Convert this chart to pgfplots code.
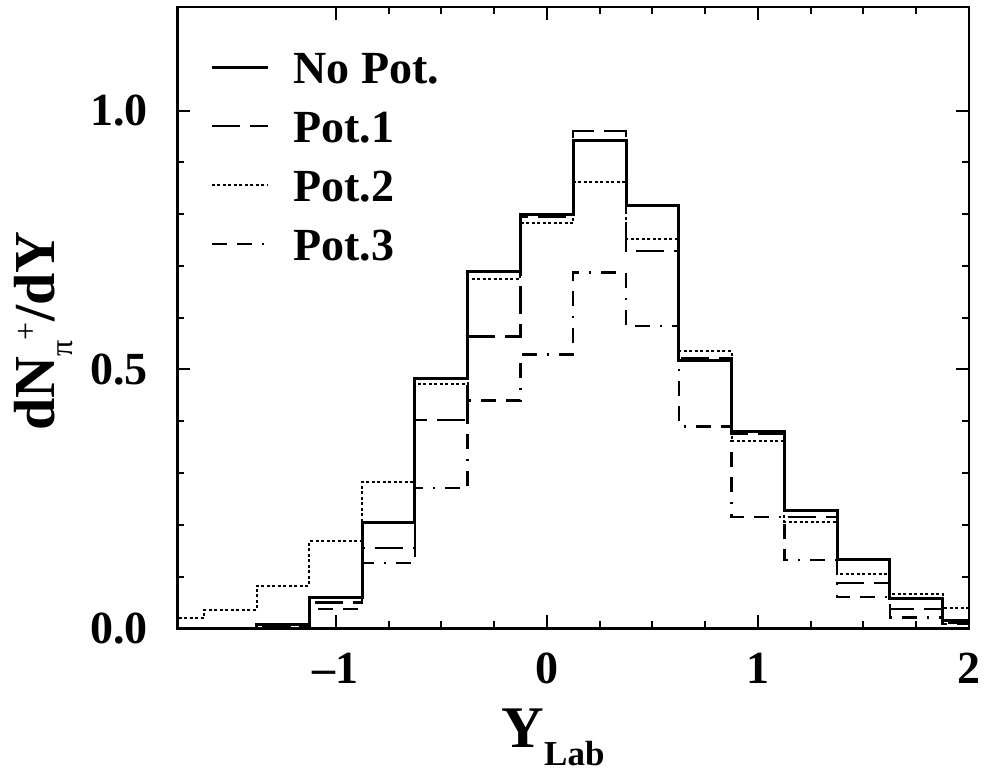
\documentclass[border=0pt]{standalone}
\usepackage{fontspec}
\setmainfont{Liberation Serif}
\usepackage{pgfplots}
\pgfplotsset{compat=1.18}
\usetikzlibrary{calc}
\begin{document}
\begin{tikzpicture}
\begin{axis}[name=ax, scale only axis, width=395.75pt, height=310.65pt,
 xmin=-1.75, xmax=2, ymin=0, ymax=1.2,
 xtick={-1,0,1,2}, xticklabels={--1,0,1,2},
 ytick={0,0.5,1}, yticklabels={0.0,0.5,1.0},
 minor x tick num=3, minor y tick num=4,
 tick pos=both, tick align=inside,
 major tick length=6.5pt, minor tick length=3.5pt,
 every tick/.style={black, line width=1pt},
 axis line style={line width=1.25pt},
 tick label style={font=\fontsize{23}{27}\selectfont\bfseries, inner sep=0pt},
 xticklabel style={anchor=north, yshift=-12.3pt},
 yticklabel style={anchor=east, xshift=-14.6pt},
 xlabel={Y\raisebox{-9pt}{\fontsize{17.5}{20}\selectfont Lab}},
 xlabel style={font=\fontsize{29.5}{34}\selectfont\bfseries, inner sep=0pt,
   at={(axis description cs:0.4745,-0.1283)}, anchor=north},
 ylabel={dN\raisebox{-9pt}{\fontsize{16}{16}\selectfont\mdseries π}\raisebox{9pt}{\fontsize{16}{16}\selectfont\mdseries +}/dY},
 ylabel style={font=\fontsize{29}{34}\selectfont\bfseries, inner sep=0pt,
   at={(axis description cs:-0.1548,0.4785)}, anchor=base},
 legend style={draw=none, fill=none, inner sep=0pt,
   at={(axis description cs:0.041,0.9416)}, anchor=north west,
   font=\fontsize{23}{27}\selectfont\bfseries,
   nodes={inner sep=0pt, text height=20pt, text depth=9.5pt},
   row sep=0pt, column sep=12pt},
 legend cell align=left,
 legend image code/.code={\draw[#1] (0pt,3pt) -- (28pt,3pt);},
 const plot mark left,
]
\addplot[black, line width=1.5pt] coordinates {
(-1.875,0) (-1.625,0) (-1.375,0.008) (-1.125,0.060) (-0.875,0.204) (-0.625,0.482)
(-0.375,0.690) (-0.125,0.800) (0.125,0.942) (0.375,0.817) (0.625,0.517) (0.875,0.380)
(1.125,0.227) (1.375,0.132) (1.625,0.058) (1.875,0.016) (2.125,0.016)};
\addlegendentry{No Pot.}
\addplot[black, line width=1.25pt, dash pattern=on 14pt off 5pt] coordinates {
(-1.875,0) (-1.625,0) (-1.375,0.004) (-1.125,0.050) (-0.875,0.155) (-0.625,0.402)
(-0.375,0.564) (-0.125,0.794) (0.125,0.960) (0.375,0.729) (0.625,0.522) (0.875,0.376)
(1.125,0.215) (1.375,0.087) (1.625,0.037) (1.875,0.010) (2.125,0.010)};
\addlegendentry{Pot.1}
\addplot[black, line width=1pt, dash pattern=on 1.5pt off 1.25pt] coordinates {
(-1.875,0.019) (-1.625,0.035) (-1.375,0.082) (-1.125,0.168) (-0.875,0.283) (-0.625,0.471)
(-0.375,0.674) (-0.125,0.782) (0.125,0.862) (0.375,0.751) (0.625,0.535) (0.875,0.361)
(1.125,0.206) (1.375,0.104) (1.625,0.066) (1.875,0.039) (2.125,0.039)};
\addlegendentry{Pot.2}
\addplot[black, line width=1.25pt, dash pattern=on 7.5pt off 5pt on 7.5pt off 5pt on 1pt off 5pt] coordinates {
(-1.875,0) (-1.625,0) (-1.375,0.002) (-1.125,0.037) (-0.875,0.126) (-0.625,0.271)
(-0.375,0.440) (-0.125,0.529) (0.125,0.687) (0.375,0.584) (0.625,0.390) (0.875,0.215)
(1.125,0.132) (1.375,0.060) (1.625,0.021) (1.875,0.008) (2.125,0.008)};
\addlegendentry{Pot.3}
\end{axis}
\pgfresetboundingbox
\path[use as bounding box] ($(ax.south west)+(-88.75pt,-72.85pt)$) rectangle ($(ax.north east)+(8.5pt,3.5pt)$);
\end{tikzpicture}
\end{document}
